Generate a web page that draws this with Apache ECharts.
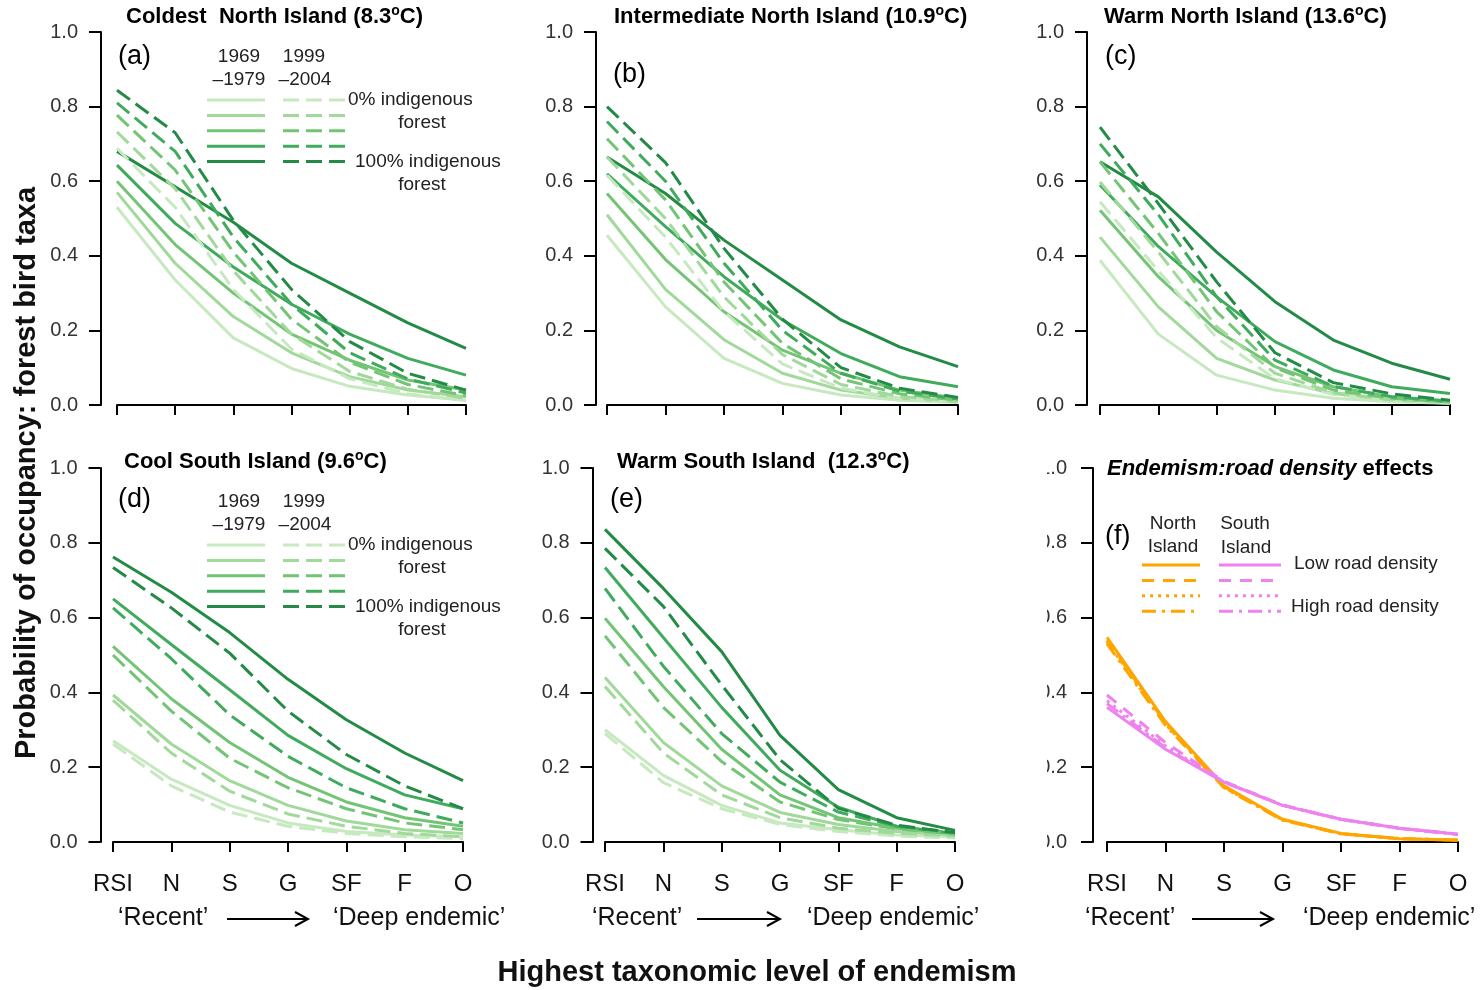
<!DOCTYPE html>
<html>
<head>
<meta charset="utf-8">
<script src="https://cdn.jsdelivr.net/npm/echarts@6/dist/echarts.min.js"></script>
<style>html,body{margin:0;padding:0;background:#fff}#c{width:1480px;height:990px}</style>
</head>
<body>
<div id="c"></div>
<script>
// ---------- DATA ----------
const categories = ['RSI', 'N', 'S', 'G', 'SF', 'F', 'O'];
const yTicks = [0, 0.2, 0.4, 0.6, 0.8, 1.0];
const forestLevels = ['0%', '25%', '50%', '75%', '100%'];

// (a) Coldest North Island (8.3C): rows = forest cover 0% .. 100%
const a1969 = [
  [0.53, 0.335, 0.18, 0.098, 0.05, 0.027, 0.013],
  [0.57, 0.38, 0.237, 0.14, 0.076, 0.04, 0.022],
  [0.60, 0.43, 0.30, 0.19, 0.12, 0.067, 0.04],
  [0.643, 0.487, 0.37, 0.27, 0.19, 0.125, 0.08],
  [0.68, 0.585, 0.49, 0.38, 0.30, 0.22, 0.152]
];
const a1999 = [
  [0.688, 0.53, 0.31, 0.15, 0.07, 0.03, 0.012],
  [0.732, 0.58, 0.36, 0.19, 0.09, 0.042, 0.018],
  [0.777, 0.63, 0.41, 0.23, 0.115, 0.055, 0.025],
  [0.81, 0.68, 0.45, 0.27, 0.14, 0.07, 0.032],
  [0.844, 0.73, 0.495, 0.31, 0.17, 0.085, 0.04]
];
// (b) Intermediate North Island (10.9C)
const b1969 = [
  [0.455, 0.263, 0.125, 0.058, 0.027, 0.013, 0.007],
  [0.51, 0.31, 0.175, 0.085, 0.04, 0.018, 0.009],
  [0.567, 0.39, 0.25, 0.147, 0.085, 0.04, 0.018],
  [0.62, 0.478, 0.344, 0.228, 0.138, 0.076, 0.049],
  [0.665, 0.567, 0.442, 0.335, 0.228, 0.156, 0.103]
];
const b1999 = [
  [0.616, 0.45, 0.25, 0.11, 0.045, 0.018, 0.008],
  [0.665, 0.50, 0.29, 0.135, 0.055, 0.023, 0.01],
  [0.714, 0.55, 0.33, 0.165, 0.07, 0.03, 0.013],
  [0.76, 0.60, 0.38, 0.20, 0.085, 0.037, 0.016],
  [0.80, 0.65, 0.42, 0.23, 0.10, 0.045, 0.02]
];
// (c) Warm North Island (13.6C)
const c1969 = [
  [0.388, 0.19, 0.08, 0.04, 0.018, 0.009, 0.005],
  [0.45, 0.263, 0.125, 0.067, 0.031, 0.013, 0.007],
  [0.522, 0.344, 0.20, 0.103, 0.049, 0.022, 0.011],
  [0.59, 0.425, 0.29, 0.17, 0.094, 0.049, 0.031],
  [0.652, 0.558, 0.41, 0.277, 0.174, 0.112, 0.069]
];
const c1999 = [
  [0.545, 0.36, 0.18, 0.07, 0.028, 0.012, 0.005],
  [0.598, 0.41, 0.21, 0.085, 0.033, 0.015, 0.007],
  [0.652, 0.46, 0.25, 0.10, 0.04, 0.018, 0.008],
  [0.70, 0.51, 0.29, 0.12, 0.05, 0.022, 0.01],
  [0.745, 0.54, 0.33, 0.14, 0.06, 0.03, 0.013]
];
// (d) Cool South Island (9.6C)
const d1969 = [
  [0.271, 0.168, 0.098, 0.051, 0.028, 0.019, 0.014],
  [0.393, 0.262, 0.164, 0.098, 0.056, 0.033, 0.023],
  [0.523, 0.383, 0.266, 0.173, 0.107, 0.065, 0.042],
  [0.65, 0.528, 0.407, 0.285, 0.196, 0.126, 0.089],
  [0.762, 0.668, 0.56, 0.435, 0.327, 0.238, 0.164]
];
const d1999 = [
  [0.262, 0.15, 0.08, 0.042, 0.023, 0.014, 0.009],
  [0.379, 0.238, 0.136, 0.075, 0.042, 0.023, 0.014],
  [0.50, 0.35, 0.224, 0.145, 0.089, 0.051, 0.033],
  [0.626, 0.49, 0.34, 0.229, 0.145, 0.089, 0.051],
  [0.734, 0.626, 0.505, 0.35, 0.234, 0.15, 0.089]
];
// (e) Warm South Island (12.3C)
const e1969 = [
  [0.30, 0.178, 0.098, 0.051, 0.033, 0.019, 0.014],
  [0.44, 0.266, 0.15, 0.079, 0.047, 0.028, 0.019],
  [0.598, 0.416, 0.248, 0.126, 0.065, 0.037, 0.023],
  [0.734, 0.547, 0.36, 0.192, 0.093, 0.042, 0.023],
  [0.836, 0.678, 0.509, 0.285, 0.14, 0.065, 0.031]
];
const e1999 = [
  [0.29, 0.159, 0.089, 0.047, 0.028, 0.016, 0.011],
  [0.416, 0.238, 0.126, 0.065, 0.037, 0.023, 0.016],
  [0.551, 0.36, 0.215, 0.107, 0.06, 0.035, 0.021],
  [0.678, 0.47, 0.29, 0.16, 0.08, 0.042, 0.025],
  [0.785, 0.63, 0.42, 0.22, 0.09, 0.045, 0.025]
];
// (f) Endemism:road density effects; rows = solid, dashed, dotted, dot-dash
const fNorth = [
  [0.547, 0.322, 0.150, 0.061, 0.023, 0.009, 0.005],
  [0.540, 0.318, 0.148, 0.060, 0.022, 0.009, 0.005],
  [0.535, 0.315, 0.146, 0.059, 0.022, 0.009, 0.005],
  [0.530, 0.312, 0.145, 0.058, 0.022, 0.009, 0.005]
];
const fSouth = [
  [0.360, 0.248, 0.160, 0.098, 0.061, 0.037, 0.021],
  [0.393, 0.266, 0.162, 0.099, 0.061, 0.037, 0.021],
  [0.378, 0.257, 0.161, 0.098, 0.061, 0.037, 0.021],
  [0.370, 0.252, 0.160, 0.098, 0.060, 0.036, 0.020]
];

// ---------- STYLE ----------
const FONT = '"Liberation Sans", Arial, Helvetica, sans-serif';
const greens = ['#c7e9c0', '#a1d99b', '#74c476', '#41ab5d', '#238b45'];
const ORANGE = '#ffa500', VIOLET = '#ee82ee';
const DASH = [16, 7];
const fDashes = ['solid', [12, 9], [3, 5], [14, 6, 3, 6]];

const panels = [
  {left: 117, top: 32, width: 349, height: 373, yo: 16, xo: 14, labels: false, lm: 23},
  {left: 607, top: 32, width: 351, height: 373, yo: 11, xo: 14, labels: false, lm: 23},
  {left: 1100, top: 32, width: 350, height: 373, yo: 13, xo: 14, labels: false, lm: 23},
  {left: 113, top: 468, width: 350, height: 374, yo: 12.5, xo: 15, labels: true, lm: 23},
  {left: 605, top: 468, width: 350, height: 374, yo: 12.5, xo: 15, labels: true, lm: 23},
  {left: 1107, top: 468, width: 351, height: 374, yo: 14, xo: 15, labels: true, lm: 26}
];

const grid = [], xAxis = [], yAxis = [], series = [];
panels.forEach((p, i) => {
  grid.push({left: p.left, top: p.top, width: p.width, height: p.height, containLabel: false, outerBoundsMode: 'none'});
  xAxis.push({
    gridIndex: i, type: 'category', data: categories, boundaryGap: false, offset: p.xo,
    axisLine: {show: true, lineStyle: {color: '#000', width: 2}},
    axisTick: {show: true, length: 10, interval: 0, lineStyle: {color: '#000', width: 2}},
    axisLabel: {show: p.labels, interval: 0, fontSize: 24, fontFamily: FONT, color: '#111', margin: 15},
    splitLine: {show: false}
  });
  yAxis.push({
    gridIndex: i, type: 'value', min: yTicks[0], max: yTicks[yTicks.length - 1], interval: 0.2, offset: p.yo,
    axisLine: {show: true, lineStyle: {color: '#000', width: 2}},
    axisTick: {show: true, length: 12, lineStyle: {color: '#000', width: 2}},
    axisLabel: {fontSize: 20, fontFamily: FONT, color: '#333', margin: p.lm, formatter: v => v.toFixed(1)},
    splitLine: {show: false}
  });
});

function addGreen(idx, old, recent) {
  old.forEach((row, k) => series.push({
    type: 'line', name: '1969-1979 ' + forestLevels[k], xAxisIndex: idx, yAxisIndex: idx, data: row,
    symbol: 'none', silent: true, lineStyle: {color: greens[k], width: 3, type: 'solid'}
  }));
  recent.forEach((row, k) => series.push({
    type: 'line', name: '1999-2004 ' + forestLevels[k], xAxisIndex: idx, yAxisIndex: idx, data: row,
    symbol: 'none', silent: true, lineStyle: {color: greens[k], width: 3, type: DASH}
  }));
}
addGreen(0, a1969, a1999);
addGreen(1, b1969, b1999);
addGreen(2, c1969, c1999);
addGreen(3, d1969, d1999);
addGreen(4, e1969, e1999);
fNorth.forEach((row, k) => series.push({
  type: 'line', xAxisIndex: 5, yAxisIndex: 5, data: row, symbol: 'none', silent: true,
  lineStyle: {color: ORANGE, width: 3, type: fDashes[k]}
}));
fSouth.forEach((row, k) => series.push({
  type: 'line', xAxisIndex: 5, yAxisIndex: 5, data: row, symbol: 'none', silent: true,
  lineStyle: {color: VIOLET, width: 3, type: fDashes[k]}
}));

// ---------- GRAPHIC (titles, legends, annotations) ----------
const G = [];
function txt(x, y, text, size, o) {
  o = o || {};
  const st = {
    text: text, fontSize: size, fontFamily: FONT, fontWeight: o.weight || 'normal',
    fontStyle: o.fstyle || 'normal', fill: o.color || '#000',
    textAlign: o.align || 'left', textVerticalAlign: o.va || 'middle',
    align: o.align || 'left', verticalAlign: o.va || 'middle'
  };
  if (o.rich) st.rich = o.rich;
  G.push({type: 'text', x: x, y: y, rotation: o.rot || 0, z: 20, silent: true, style: st});
}
function seg(x1, y1, x2, y2, color, w, dash) {
  const st = {stroke: color, lineWidth: w};
  if (dash) st.lineDash = dash;
  G.push({type: 'line', z: 20, silent: true, shape: {x1: x1, y1: y1, x2: x2, y2: y2}, style: st});
}
const richT = {
  b: {fontSize: 22, fontWeight: 'bold', fontFamily: FONT, fill: '#000', lineHeight: 26},
  bi: {fontSize: 22, fontWeight: 'bold', fontStyle: 'italic', fontFamily: FONT, fill: '#000', lineHeight: 26},
  s: {fontSize: 14, fontWeight: 'bold', fontFamily: FONT, fill: '#000', lineHeight: 16, verticalAlign: 'top'}
};
function title(x, y, main, tail) {
  txt(x, y, '{b|' + main + '}{s|o}{b|' + tail + '}', 22, {rich: richT});
}
title(126, 17, 'Coldest  North Island (8.3', 'C)');
title(614, 17, 'Intermediate North Island (10.9', 'C)');
title(1104, 17, 'Warm North Island (13.6', 'C)');
title(124, 462, 'Cool South Island (9.6', 'C)');
title(617, 462, 'Warm South Island  (12.3', 'C)');
txt(1107, 469, '{bi|Endemism:road density}{b| effects}', 22, {rich: richT});

// panel letters
txt(118, 57, '(a)', 27); txt(613, 75, '(b)', 27); txt(1105, 57, '(c)', 27);
txt(118, 500, '(d)', 27); txt(610, 500, '(e)', 27); txt(1105, 537, '(f)', 27);

// green legends for (a) and (d)
function greenLegend(dy) {
  txt(239, 57 + dy, '1969', 19, {align: 'center', color: '#222'});
  txt(239, 80 + dy, '\u20131979', 19, {align: 'center', color: '#222'});
  txt(304, 57 + dy, '1999', 19, {align: 'center', color: '#222'});
  txt(305, 80 + dy, '\u20132004', 19, {align: 'center', color: '#222'});
  greens.forEach((c, k) => {
    const y = 100 + dy + k * 15.4;
    seg(207, y, 265, y, c, 3);
    seg(283, y, 346, y, c, 3, DASH);
  });
  txt(348, 100 + dy, '0% indigenous', 19, {color: '#222'});
  txt(422, 123 + dy, 'forest', 19, {align: 'center', color: '#222'});
  txt(355, 162 + dy, '100% indigenous', 19, {color: '#222'});
  txt(422, 185 + dy, 'forest', 19, {align: 'center', color: '#222'});
}
greenLegend(0);
greenLegend(445);

// legend (f)
txt(1173, 524, 'North', 19, {align: 'center', color: '#222'});
txt(1173, 547, 'Island', 19, {align: 'center', color: '#222'});
txt(1245, 524, 'South', 19, {align: 'center', color: '#222'});
txt(1246, 548, 'Island', 19, {align: 'center', color: '#222'});
fDashes.forEach((d, k) => {
  const y = 565 + k * 15.4;
  const dash = d === 'solid' ? null : d;
  seg(1142, y, 1200, y, ORANGE, 3, dash);
  seg(1219, y, 1281, y, VIOLET, 3, dash);
});
txt(1294, 564, 'Low road density', 19, {color: '#222'});
txt(1291, 607, 'High road density', 19, {color: '#222'});

// 'Recent' -> 'Deep endemic'
function arrowRow(xr, xa1, xa2, xd) {
  const y = 919;
  txt(xr, y - 1, '\u2018Recent\u2019', 25, {color: '#111'});
  seg(xa1, y, xa2, y, '#000', 2);
  G.push({type: 'polyline', z: 20, silent: true,
    shape: {points: [[xa2 - 13, y - 7], [xa2, y], [xa2 - 13, y + 7]]},
    style: {stroke: '#000', lineWidth: 2, fill: null}});
  txt(xd, y - 1, '\u2018Deep endemic\u2019', 25, {color: '#111'});
}
arrowRow(118, 227, 308, 333);
arrowRow(592, 697, 780, 807);
arrowRow(1085, 1192, 1273, 1303);

// axis titles
txt(27, 473, 'Probability of occupancy: forest bird taxa', 29, {weight: 'bold', align: 'center', rot: Math.PI / 2, color: '#111'});
txt(757, 973, 'Highest taxonomic level of endemism', 29, {weight: 'bold', align: 'center', color: '#111'});

// the reference has panel (f) tick labels cut off at the left
G.push({type: 'rect', z: 100, silent: true, shape: {x: 990, y: 455, width: 57, height: 400}, style: {fill: '#fff'}});

const chart = echarts.init(document.getElementById('c'), null, {renderer: 'canvas', width: 1480, height: 990});
chart.setOption({
  backgroundColor: '#fff',
  animation: false,
  grid: grid, xAxis: xAxis, yAxis: yAxis, series: series,
  graphic: {elements: G}
});
</script>
</body>
</html>
